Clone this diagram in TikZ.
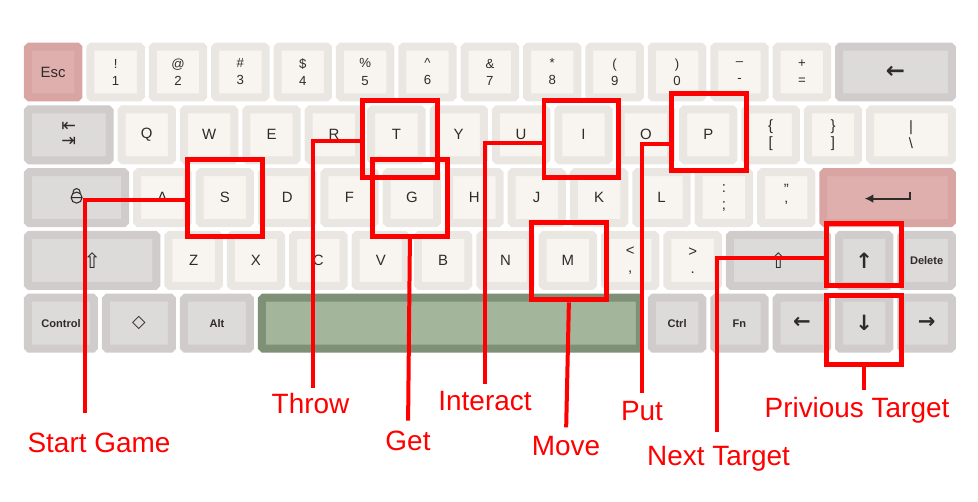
\documentclass[tikz,border=0pt]{standalone}
\usepackage{fontspec}
\setmainfont{Liberation Sans}
\newfontfamily\symfont{DejaVu Sans}
\usetikzlibrary{arrows.meta}

\definecolor{alphaout}{HTML}{EAE7E3}
\definecolor{alphain}{HTML}{F8F5F1}
\definecolor{modout}{HTML}{CFCCCB}
\definecolor{modin}{HTML}{DDDBD9}
\definecolor{pinkout}{HTML}{D8A5A3}
\definecolor{pinkin}{HTML}{DEAFAC}
\definecolor{spaceout}{HTML}{7E9177}
\definecolor{spacein}{HTML}{A3B69C}
\definecolor{legend}{HTML}{2F2B2B}
\definecolor{hlred}{HTML}{FF0000}

\newcommand\keysmall{\fontsize{6.3}{7}\selectfont\bfseries}
\newcommand\keyarrow{\symfont\bfseries\fontsize{12}{12}\selectfont}

\tikzset{
	keycap/.style={draw=#1out, fill=#1in, line width=0.16cm, rounded corners=0.03cm,
		minimum height=1.02cm, inner sep=0pt, align=center, text=legend,
		font=\fontsize{8.5}{9.7}\selectfont},
	keycap/.default=alpha,
	wd/.style={minimum width={1.248cm*#1-0.24cm}},
	hlbox/.style={draw=hlred, line width=0.1cm, minimum width=1.5cm, minimum height=1.54cm, inner sep=0pt},
	wire/.style={draw=hlred, line width=0.08cm},
	tag/.style={text=hlred, anchor=base, inner sep=0pt, font=\fontsize{15.9}{19}\selectfont}
}

\begin{document}
\begin{tikzpicture}[x=0.02cm, y=-0.02cm]
	\useasboundingbox (0,0) rectangle (978,501);
	\begin{scope}[shift={(22,0)}, x=1.248cm]
		\node[keycap=pink, wd=1] (kEsc) at (0.5,72) {Esc};
		\foreach \n/\t [count=\i] in {1/{!\\1},2/{@\\2},3/{\#\\3},4/{\$\\4},5/{\%\\5},6/{\textasciicircum\\6},7/{\&\\7},8/{*\\8},9/{(\\9},0/{)\\0},Minus/{–\\-},Equal/{+\\=}}
			\node[keycap, wd=1, font=\fontsize{7.5}{9.7}\selectfont] (k\n) at (\i+0.5,72) {\t};
		\node[keycap=mod, wd=2, font=\symfont\bfseries\fontsize{13}{13}\selectfont] (kBack) at (14,72) {←};

		\node[keycap=mod, wd=1.5, font=\symfont\fontsize{10}{8.5}\selectfont] (kTab) at (0.75,134.8) {⇤\\⇥};
		\foreach \n/\t [count=\i] in {Q/Q,W/W,E/E,R/R,T/T,Y/Y,U/U,I/I,O/O,P/P,LBr/{\{\\{[}},RBr/{\}\\{]}}}
			\node[keycap, wd=1] (k\n) at (\i+1,134.8) {\t};
		\node[keycap, wd=1.5] (kBsl) at (14.25,134.8) {|\\\textbackslash};

		\node[keycap=mod, wd=1.75] (kCaps) at (0.875,197.6) {};
		\foreach \n/\t [count=\i] in {A/A,S/S,D/D,F/F,G/G,H/H,J/J,K/K,L/L,Semi/{:\\;},Quote/{"\\'}}
			\node[keycap, wd=1] (k\n) at (\i+1.25,197.6) {\t};
		\node[keycap=pink, wd=2.25] (kEnter) at (13.875,197.6) {};

		\node[keycap=mod, wd=2.25, font=\symfont\fontsize{12}{12}\selectfont] (kShiftL) at (1.125,260.4) {⇧};
		\foreach \n/\t [count=\i] in {Z/Z,X/X,C/C,V/V,B/B,N/N,M/M,Comma/{<\\,},Dot/{>\\.}}
			\node[keycap, wd=1] (k\n) at (\i+1.75,260.4) {\t};
		\node[keycap=mod, wd=1.75, font=\symfont\fontsize{12}{12}\selectfont] (kShiftR) at (12.125,260.4) {⇧};
		\node[keycap=mod, wd=1, font=\keyarrow] (kUp) at (13.5,260.4) {↑};
		\node[keycap=mod, wd=1, font=\keysmall] (kDel) at (14.5,260.4) {Delete};

		\node[keycap=mod, wd=1.25, font=\keysmall] (kCtrlL) at (0.625,323.2) {Control};
		\node[keycap=mod, wd=1.25, font=\symfont\fontsize{10}{10}\selectfont] (kWin) at (1.875,323.2) {◇};
		\node[keycap=mod, wd=1.25, font=\keysmall] (kAlt) at (3.125,323.2) {Alt};
		\node[keycap=space, wd=6.25] (kSpace) at (6.875,323.2) {};
		\node[keycap=mod, wd=1, font=\keysmall] (kCtrlR) at (10.5,323.2) {Ctrl};
		\node[keycap=mod, wd=1, font=\keysmall] (kFn) at (11.5,323.2) {Fn};
		\foreach \n/\t [count=\i] in {Left/←,Down/↓,Right/→}
			\node[keycap=mod, wd=1, font=\keyarrow] (k\n) at (\i+11.5,323.2) {\t};
	\end{scope}

	\draw[legend, line width=0.6pt] (kCaps.center) circle[radius=5.5]
		([shift={(-5.5,0)}]kCaps.center) -- ++(11,0)
		([shift={(-3.5,-3.5)}]kCaps.center) -- ++(0,-2) arc[start angle=180, end angle=360, radius=3.5] -- ++(0,2);
	\draw[legend, line width=1.1pt, -{Latex[length=5pt,width=5pt]}] ([shift={(22,-6)}]kEnter.center) -- ++(0,7) -- ++(-45,0);

	\node[hlbox] (bS) at (kS) {};
	\node[hlbox] (bT) at ([shift={(4,4)}]kT) {};
	\node[hlbox] (bG) at ([shift={(-2,0)}]kG) {};
	\node[hlbox] (bI) at ([shift={(-2,4)}]kI) {};
	\node[hlbox] (bP) at ([shift={(1,-3)}]kP) {};
	\node[hlbox] (bM) at ([shift={(1,1)}]kM) {};
	\node[hlbox, minimum height=1.24cm] (bUp) at ([shift={(0,-6)}]kUp) {};
	\node[hlbox, minimum height=1.38cm] (bDown) at ([shift={(0,7)}]kDown) {};

	\node[tag] (lStart) at (99,452) {Start Game};
	\node[tag] (lThrow) at (310.5,413) {Throw};
	\node[tag] (lGet) at (408,450) {Get};
	\node[tag] (lInteract) at (485,410) {Interact};
	\node[tag] (lMove) at (566,455) {Move};
	\node[tag] (lPut) at (642,420) {Put};
	\node[tag] (lNext) at (718.5,465) {Next Target};
	\node[tag] (lPriv) at (857,417) {Privious Target};

	\draw[wire, shorten >=0.39cm] ([shift={(0,2)}]bS.west) -| ([xshift=-0.28cm]lStart.north);
	\draw[wire, shorten >=0.09cm] ([shift={(0,2)}]bT.west) -| ([xshift=0.05cm]lThrow.north);
	\draw[wire, shorten >=0.19cm] (bG.south) -- (lGet.north);
	\draw[wire, shorten >=0.13cm] ([shift={(0,4)}]bI.west) -| (lInteract.north);
	\draw[wire, shorten >=0.16cm] (bM.south) -- (lMove.north);
	\draw[wire, shorten >=0.14cm] ([shift={(0,12)}]bP.west) -| (lPut.north);
	\draw[wire, shorten >=0.26cm] ([shift={(0,3.5)}]bUp.west) -| ([xshift=-0.03cm]lNext.north);
	\draw[wire, shorten >=0.12cm] (bDown.south) -- (bDown.south |- lPriv.north);
\end{tikzpicture}
\end{document}
